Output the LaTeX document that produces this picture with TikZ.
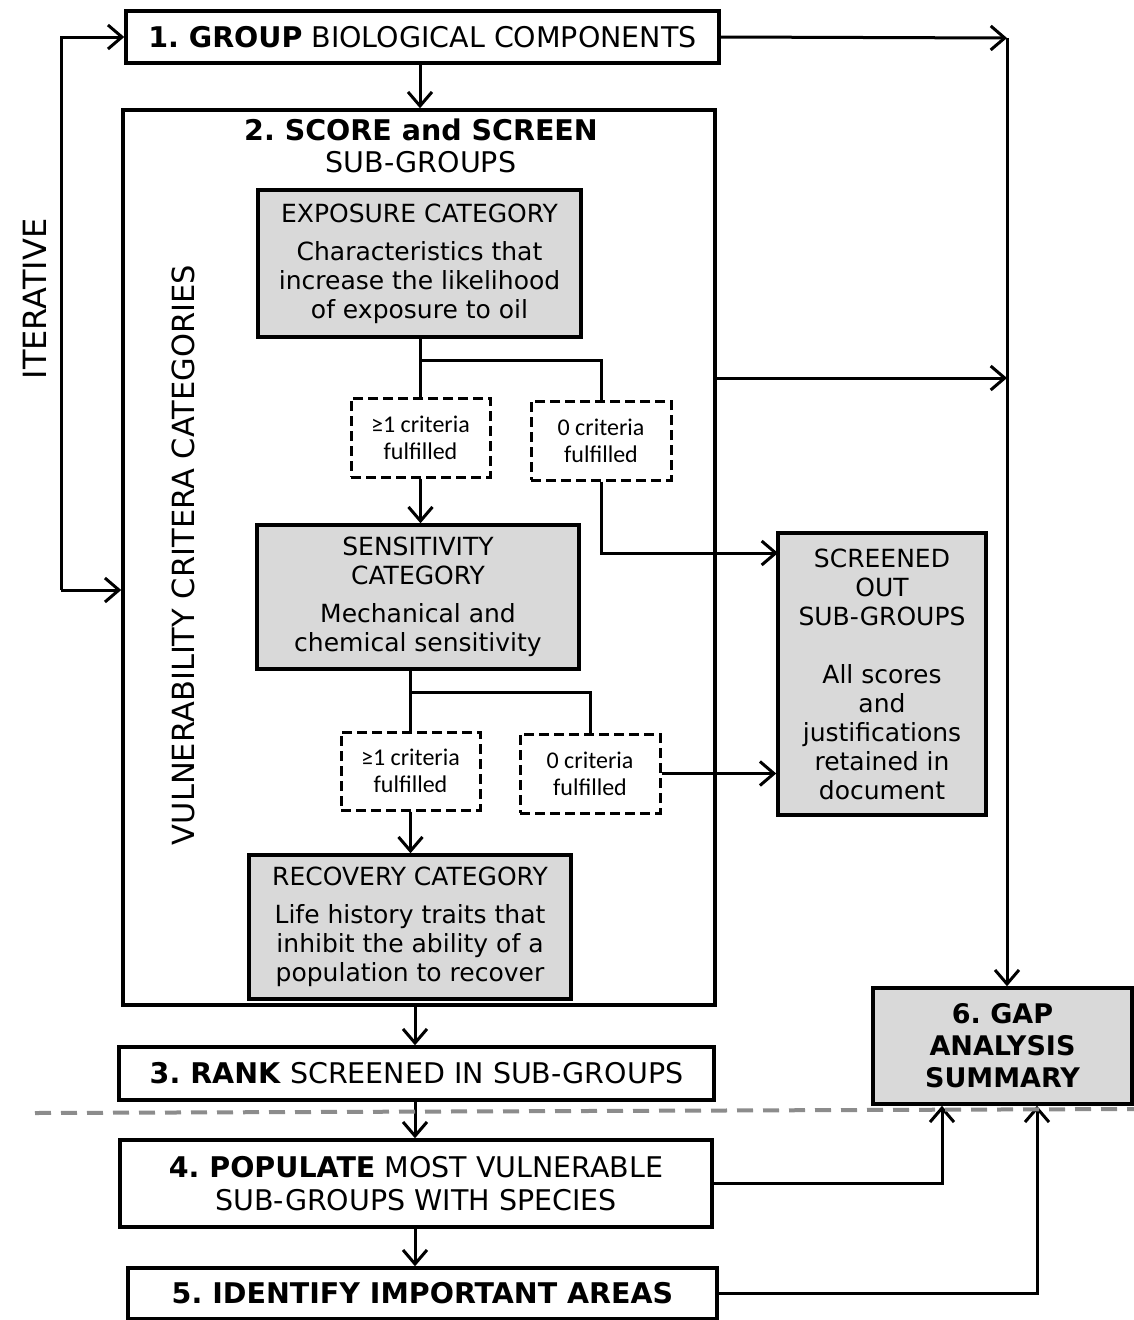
\documentclass[tikz,border=0pt]{standalone}
\usepackage{fontspec}
\setmainfont{DejaVu Sans}
\newfontfamily\calfont{Carlito}
\usetikzlibrary{arrows.meta}
\definecolor{boxgray}{HTML}{D9D9D9}
\definecolor{dashgray}{HTML}{8C8C8C}
\frenchspacing
\tikzset{
  stepbox/.style={draw, line width=3.5pt, fill=white, inner sep=0pt, align=center, font=\fontsize{28.5}{33}\selectfont},
  catbox/.style={draw, line width=3.5pt, fill=boxgray, inner sep=0pt, align=center, font=\fontsize{25}{29}\selectfont},
  critbox/.style={draw, dash pattern=on 10pt off 5pt, line width=3pt, fill=white, inner sep=0pt, align=center, font=\calfont\fontsize{24}{27}\selectfont},
  conn/.style={line width=3pt},
  arr/.style={conn, -{Straight Barb[length=14pt,width=24pt,line width=3pt]}},
  sidelabel/.style={rotate=90, inner sep=0pt},
}
\begin{document}
\begin{tikzpicture}[x=1pt,y=-1pt]
\useasboundingbox (0,0) rectangle (1134,1320);
\fill[white] (0,0) rectangle (1134,1320);

% big frame of step 2
\node[draw, line width=3.5pt, inner sep=0pt, minimum width=592pt, minimum height=895pt] (box2) at (419,557.5) {};
\node[inner sep=0pt, align=center, font=\fontsize{28.5}{32}\selectfont] (t2) at (421,146) {\textbf{2. SCORE and SCREEN}\\SUB-GROUPS};

% steps
\node[stepbox, minimum width=593pt, minimum height=52pt] (box1) at (422.5,37) {\textbf{1. GROUP} BIOLOGICAL COMPONENTS};
\node[stepbox, minimum width=595pt, minimum height=53pt] (box3) at (416.5,1073.5) {\textbf{3. RANK} SCREENED IN SUB-GROUPS};
\node[stepbox, minimum width=592pt, minimum height=87pt] (box4) at (416,1183.5) {\textbf{4. POPULATE} MOST VULNERABLE\\SUB-GROUPS WITH SPECIES};
\node[stepbox, minimum width=589pt, minimum height=51pt] (box5) at (422.5,1293.5) {\textbf{5. IDENTIFY IMPORTANT AREAS}};
\node[catbox, minimum width=259pt, minimum height=116pt, font=\bfseries\fontsize{27}{32}\selectfont] (box6) at (1002.5,1046) {6. GAP\\ANALYSIS\\SUMMARY};

% category boxes
\node[catbox, minimum width=323pt, minimum height=147pt] (exp) at (419.5,263.5) {EXPOSURE CATEGORY\\[9pt]Characteristics that\\increase the likelihood\\of exposure to oil};
\node[catbox, minimum width=322pt, minimum height=144pt] (sens) at (418,597) {SENSITIVITY\\CATEGORY\\[9pt]Mechanical and\\chemical sensitivity};
\node[catbox, minimum width=322pt, minimum height=144pt] (recov) at (410,927) {RECOVERY CATEGORY\\[9pt]Life history traits that\\inhibit the ability of a\\population to recover};
\node[catbox, minimum width=208pt, minimum height=282pt] (scr) at (882,674) {SCREENED\\OUT\\SUB-GROUPS\\[29pt]All scores\\and\\justifications\\retained in\\document};

% criteria boxes
\node[critbox, minimum width=139pt, minimum height=79pt] (ge1a) at (420.5,437.5) {≥1 criteria\\fulfilled};
\node[critbox, minimum width=140pt, minimum height=79pt] (zero1) at (601,440.5) {0 criteria\\fulfilled};
\node[critbox, minimum width=139pt, minimum height=78pt] (ge1b) at (410.5,771) {≥1 criteria\\fulfilled};
\node[critbox, minimum width=140pt, minimum height=79pt] (zero2) at (590,773.5) {0 criteria\\fulfilled};

% side labels
\node[sidelabel, font=\fontsize{30.5}{32}\selectfont] (vuln) at (183,555) {VULNERABILITY CRITERA CATEGORIES};
\node[sidelabel, font=\fontsize{32}{34}\selectfont] (iter) at (35,299) {ITERATIVE};

% helper coordinates
\coordinate (br1) at (420.5,360);
\coordinate (br2) at (410.5,692);
\coordinate (s1) at (778,553);
\coordinate (rtop) at (1007,38);
\coordinate (r2) at (1007,378);
\coordinate (itB) at (61,590);
\coordinate (sepL) at (35,1113);
\coordinate (sepR) at (1134,1109);

% connectors
\draw[arr] (box1.south -| 420,0) -- (box2.north -| 420,0);
\draw[conn] (exp.south -| ge1a) -- (ge1a.north);
\draw[conn] (br1) -| (zero1.north);
\draw[arr] (ge1a.south) -- (ge1a.south |- sens.north);
\draw[arr] (zero1.south) |- (s1);
\draw[conn] (sens.south -| ge1b) -- (ge1b.north);
\draw[conn] (br2) -| (zero2.north);
\draw[arr] (ge1b.south) -- (ge1b.south |- recov.north);
\draw[arr] (zero2.east) -- (scr.west |- zero2.east);
\draw[arr] (box2.south -| 415,0) -- (box3.north -| 415,0);
\draw[arr] (box3.south -| 415,0) -- (box4.north -| 415,0);
\draw[arr] (box4.south -| 415,0) -- (box5.north -| 415,0);

\draw[arr] (box1.east) -- (rtop);
\draw[arr] (rtop) -- (rtop |- box6.north);
\draw[arr] (box2.east |- r2) -- (r2);
\draw[arr] (box4.east) -| ([xshift=-60.5pt]box6.south);
\draw[arr] (box5.east) -| ([xshift=34.5pt]box6.south);

\draw[arr] (itB) |- (box1.west);
\draw[arr] (itB) -- (box2.west |- itB);

\draw[dashgray, line width=4pt, dash pattern=on 16pt off 10pt] (sepL) -- (sepR);
\end{tikzpicture}
\end{document}
